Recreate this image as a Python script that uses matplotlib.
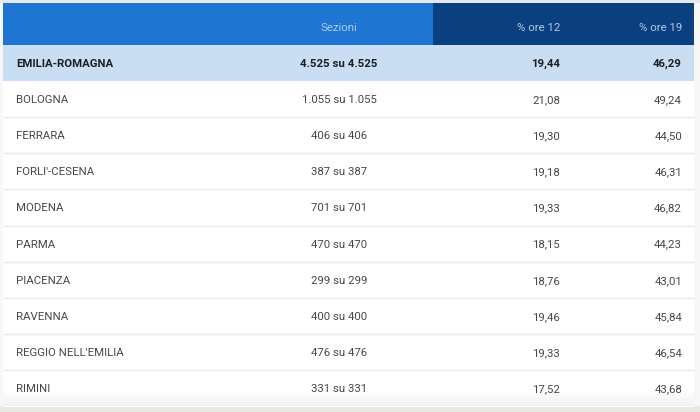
import matplotlib
matplotlib.use('Agg')
from matplotlib import pyplot as plt
from matplotlib.patches import Rectangle
import numpy as np

# dati della tabella
province = ["EMILIA-ROMAGNA", "BOLOGNA", "FERRARA", "FORLI'-CESENA", "MODENA", "PARMA",
            "PIACENZA", "RAVENNA", "REGGIO NELL'EMILIA", "RIMINI"]
sezioni = ["4.525 su 4.525", "1.055 su 1.055", "406 su 406", "387 su 387", "701 su 701",
           "470 su 470", "299 su 299", "400 su 400", "476 su 476", "331 su 331"]
ore_12 = ["19,44", "21,08", "19,30", "19,18", "19,33", "18,15", "18,76", "19,46", "19,33", "17,52"]
ore_19 = ["46,29", "49,24", "44,50", "46,31", "46,82", "44,23", "43,01", "45,84", "46,54", "43,68"]
intestazioni = ["Sezioni", "% ore 12", "% ore 19"]

plt.rcParams['font.family'] = ['Roboto', 'DejaVu Sans']

fig = plt.figure(figsize=(7.0, 4.12), dpi=100, facecolor='#f7f7f7')
ax = fig.add_axes([0, 0, 1, 1])
ax.set_xlim(0, 700)
ax.set_ylim(412, 0)
ax.axis('off')

left, right, split = 3, 694, 433
head_top, head_bottom = 3, 44.5
row_h = 36.2
fs = 8.2

# ombra sopra e fondo pagina
ax.add_patch(Rectangle((0, 0), 700, 3, color='#e6e8ea', lw=0))
ax.add_patch(Rectangle((0, 406), 700, 6, color='#e9e9e4', lw=0))

# intestazione
ax.add_patch(Rectangle((left, head_top), split - left, head_bottom - head_top, color='#1f76d2', lw=0))
ax.add_patch(Rectangle((split, head_top), right - split, head_bottom - head_top, color='#0a3f80', lw=0))
ax.text(339, 28, intestazioni[0], color='#a9cdf1', fontsize=fs, ha='center', va='center')
ax.text(560, 28, intestazioni[1], color='#b6c9e0', fontsize=fs, ha='right', va='center')
ax.text(682, 28, intestazioni[2], color='#b6c9e0', fontsize=fs, ha='right', va='center')

# righe
for i, nome in enumerate(province):
    top = head_bottom + i * row_h
    mid = top + row_h / 2 + 1
    bold = i == 0
    bg = '#cadef3' if bold else 'white'
    ax.add_patch(Rectangle((left, top), right - left, row_h, color=bg, lw=0))
    if not bold and i < len(province) - 1:
        ax.plot([left, right], [top + row_h, top + row_h], color='#e9e9e9', lw=1, solid_capstyle='butt')
    weight = 'bold' if bold else 'normal'
    color = '#1a2026' if bold else '#43484d'
    ax.text(16, mid, nome, color=color, fontsize=fs, fontweight=weight, ha='left', va='center', zorder=4)
    ax.text(339, mid, sezioni[i], color=color, fontsize=fs, fontweight=weight, ha='center', va='center', zorder=4)
    ax.text(560, mid, ore_12[i], color=color, fontsize=fs, fontweight=weight, ha='right', va='center', zorder=4)
    ax.text(682, mid, ore_19[i], color=color, fontsize=fs, fontweight=weight, ha='right', va='center', zorder=4)

# sfumatura in fondo alla tabella
sfumatura = np.linspace(1.0, 0.945, 32).reshape(-1, 1)
ax.imshow(sfumatura, cmap='gray', vmin=0, vmax=1, extent=(left, right, 406, 390), aspect='auto', zorder=3)
ax.set_xlim(0, 700)
ax.set_ylim(412, 0)

fig.savefig('out.png', dpi=100, facecolor=fig.get_facecolor())
